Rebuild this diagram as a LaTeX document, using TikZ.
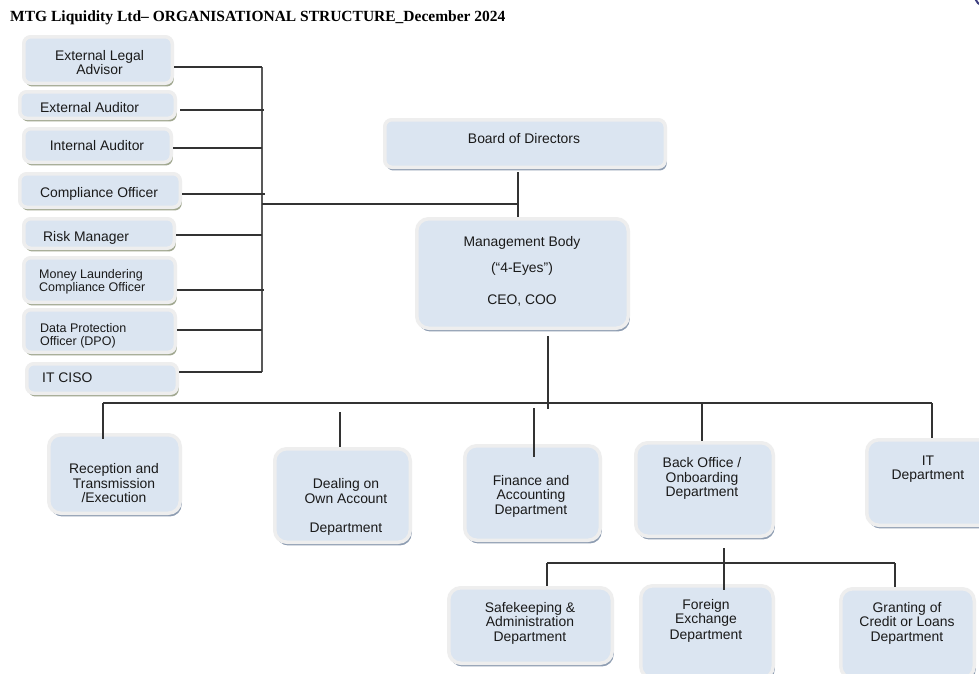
\documentclass[tikz,border=0pt]{standalone}
\usepackage{fontspec}
\setmainfont{Liberation Sans}
\newfontfamily\titlefont{Liberation Serif}
\usetikzlibrary{shadows,calc}
\definecolor{boxfill}{HTML}{DBE5F1}
\definecolor{boxrim}{HTML}{EEEEEE}
\definecolor{shadowblue}{HTML}{8E9DB2}
\definecolor{shadowolive}{HTML}{A0A78F}
\definecolor{linecol}{HTML}{333333}
\definecolor{txtcol}{HTML}{1A1A1A}
\definecolor{arcblue}{HTML}{3D3F80}
\tikzset{
  orgbox/.style={draw=boxrim, line width=3.5pt, fill=boxfill, inner sep=0pt,
    rounded corners=7pt,
    drop shadow={shadow xshift=1.5pt, shadow yshift=-3.2pt, fill=#1, opacity=1}},
  orgbox/.default=shadowblue,
  bigr/.style={rounded corners=12pt},
  txt/.style={anchor=base, inner sep=0pt, text=txtcol, font=\fontsize{13.9}{15}\selectfont},
  txtl/.style={txt, anchor=base west},
  small/.style={font=\fontsize{12.5}{13}\selectfont},
  conn/.style={draw=linecol, line width=1.1pt},
  busline/.style={draw=black!65, line width=1.6pt}
}
\begin{document}
\begin{tikzpicture}[x=1pt,y=-1pt]
\useasboundingbox (0,0) rectangle (979,673);
\clip (0,0) rectangle (979,673);
\fill[white] (0,0) rectangle (979,673);

% title
\node[anchor=base west, inner sep=0pt, text=black, font=\titlefont\bfseries\fontsize{15.5}{18}\selectfont] (title) at (10,21) {MTG Liquidity Ltd– ORGANISATIONAL STRUCTURE\_December 2024};
\draw[arcblue, line width=2pt] (985,-4) circle (10);

% left column boxes
\node[orgbox=shadowolive, minimum width=148.5, minimum height=46.5] (ela) at (98,60) {};
\node[orgbox=shadowolive, minimum width=155.5, minimum height=26.5] (ea) at (97.5,105) {};
\node[orgbox=shadowolive, minimum width=147.5, minimum height=33.5] (ia) at (97.5,145.5) {};
\node[orgbox=shadowolive, minimum width=160.5, minimum height=33.5] (co) at (100,190.5) {};
\node[orgbox=shadowolive, minimum width=150.5, minimum height=29.5] (rm) at (99,233.5) {};
\node[orgbox=shadowolive, minimum width=151.5, minimum height=44.5] (ml) at (99.5,280) {};
\node[orgbox=shadowolive, minimum width=151.5, minimum height=42.5] (dp) at (99.5,331) {};
\node[orgbox=shadowolive, minimum width=150.5, minimum height=29.5] (ci) at (102,378.5) {};

% top boxes
\node[orgbox, minimum width=280.5, minimum height=47.5] (board) at (525,143.5) {};
\node[orgbox, bigr, minimum width=211.5, minimum height=109.5] (mgmt) at (522.5,273.5) {};

% department boxes
\node[orgbox, bigr, minimum width=131.5, minimum height=78.5] (rec) at (114.5,474) {};
\node[orgbox, bigr, minimum width=135.5, minimum height=93.5] (deal) at (342.5,495.5) {};
\node[orgbox, bigr, minimum width=135.5, minimum height=94.5] (fin) at (532.5,493) {};
\node[orgbox, bigr, minimum width=137.5, minimum height=93.5] (bo) at (704.5,489.5) {};
\node[orgbox, bigr, minimum width=136.5, minimum height=85.5] (it) at (935,482.5) {};
\node[orgbox, bigr, minimum width=163.5, minimum height=75.5] (sk) at (530.5,625.5) {};
\node[orgbox, bigr, minimum width=132.5, minimum height=92.5] (fx) at (707,632) {};
\node[orgbox, bigr, minimum width=133.5, minimum height=89.5] (gr) at (907.5,633.5) {};

% texts
\node[txt] (ela1) at (99.5,60) {External Legal};
\node[txt] (ela2) at (99.5,74) {Advisor};
\node[txtl] (eat) at (40,112) {External Auditor};
\node[txt] (iat) at (97,150) {Internal Auditor};
\node[txt] (cot) at (99,197) {Compliance Officer};
\node[txtl] (rmt) at (43,241) {Risk Manager};
\node[txtl, small] (ml1) at (39,278) {Money Laundering};
\node[txtl, small] (ml2) at (39,291) {Compliance Officer};
\node[txtl, small] (dp1) at (40,332) {Data Protection};
\node[txtl, small] (dp2) at (40,345) {Officer (DPO)};
\node[txtl] (cit) at (42,382) {IT CISO};
\node[txt] (boardt) at (524,143) {Board of Directors};
\node[txt] (mg1) at (522,246) {Management Body};
\node[txt] (mg2) at (522,272) {(“4-Eyes”)};
\node[txt] (mg3) at (522,304) {CEO, COO};
\node[txt] (rec1) at (114,473) {Reception and};
\node[txt] (rec2) at (114,488) {Transmission};
\node[txt] (rec3) at (114,502) {/Execution};
\node[txt] (deal1) at (346,488) {Dealing on};
\node[txt] (deal2) at (346,503) {Own Account};
\node[txt] (deal3) at (346,532) {Department};
\node[txt] (fin1) at (531,485) {Finance and};
\node[txt] (fin2) at (531,499.5) {Accounting};
\node[txt] (fin3) at (531,514) {Department};
\node[txt] (bo1) at (702,467) {Back Office /};
\node[txt] (bo2) at (702,482) {Onboarding};
\node[txt] (bo3) at (702,496) {Department};
\node[txt] (it1) at (928,465) {IT};
\node[txt] (it2) at (928,479) {Department};
\node[txt] (sk1) at (530,612) {Safekeeping \&};
\node[txt] (sk2) at (530,626) {Administration};
\node[txt] (sk3) at (530,641) {Department};
\node[txt] (fx1) at (706,609) {Foreign};
\node[txt] (fx2) at (706,623) {Exchange};
\node[txt] (fx3) at (706,639) {Department};
\node[txt] (gr1) at (907,612) {Granting of};
\node[txt] (gr2) at (907,626) {Credit or Loans};
\node[txt] (gr3) at (907,641) {Department};

% connector coordinates
\coordinate (bELA) at (262,67);
\coordinate (bEA) at (264,110);
\coordinate (bIA) at (262,148);
\coordinate (bCO) at (265,194);
\coordinate (bRM) at (262,235);
\coordinate (bML) at (264,290);
\coordinate (bDP) at (262,330);
\coordinate (bCI) at (262,372);
\coordinate (bMid) at (262,204);
\coordinate (jBM) at (518,204);
\coordinate (mDown) at (548,409);
\coordinate (hL) at (103,403);
\coordinate (hR) at (932,403);
\coordinate (dTop) at (340,412);
\coordinate (fTop) at (534,408);
\coordinate (bTop) at (702,403);
\coordinate (boDown) at (724,548);
\coordinate (cL) at (547,563);
\coordinate (cR) at (895,563);

% left bus
\draw[busline] (bELA) -- (bCI);
\draw[conn] (ela.east |- bELA) -- (bELA);
\draw[conn] ($(ea.east |- bEA)+(3,0)$) -- (bEA);
\draw[conn] (ia.east |- bIA) -- (bIA);
\draw[conn] (co.east |- bCO) -- (bCO);
\draw[conn] (rm.east |- bRM) -- (bRM);
\draw[conn] (ml.east |- bML) -- (bML);
\draw[conn] (dp.east |- bDP) -- (bDP);
\draw[conn] (ci.east |- bCI) -- (bCI);
\draw[conn] (bMid) -- (jBM);
\draw[conn] ($(board.south -| jBM)+(0,3)$) -- (mgmt.north -| jBM);

% management to departments
\draw[conn] ($(mgmt.south -| mDown)+(0,6)$) -- (mDown);
\draw[conn] (hL) -- (hR);
\draw[conn] (hL) -- ($(hL |- rec.north)+(0,6)$);
\draw[conn] (dTop) -- (dTop |- deal.north);
\draw[conn] (fTop) -- ($(fTop |- fin.north)+(0,13)$);
\draw[conn] (bTop) -- (bTop |- bo.north);
\draw[conn] (hR) -- (hR |- it.north);

% back office to sub-departments
\draw[conn] (boDown) -- ($(boDown |- fx.north)+(0,6)$);
\draw[conn] (cL) -- (cR);
\draw[conn] (cL) -- (cL |- sk.north);
\draw[conn] (cR) -- (cR |- gr.north);
\end{tikzpicture}
\end{document}
